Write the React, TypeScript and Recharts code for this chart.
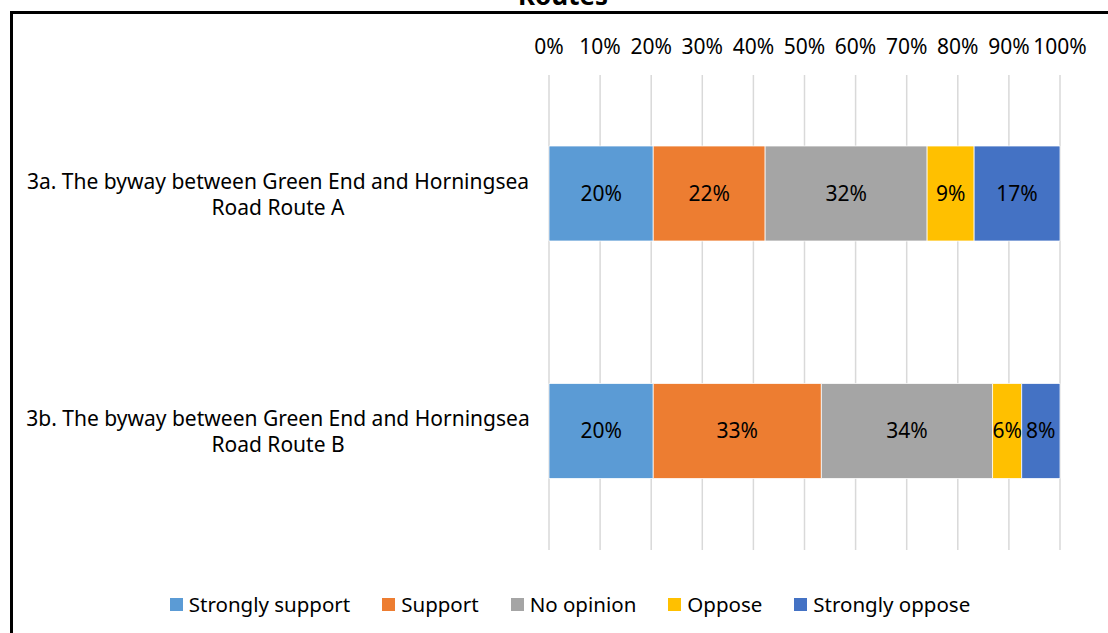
import {
  BarChart,
  Bar,
  XAxis,
  YAxis,
  CartesianGrid,
  Legend,
  LabelList
} from "recharts";

const categoryLines = [
  ["3a. The byway between Green End and Horningsea", "Road Route A"],
  ["3b. The byway between Green End and Horningsea", "Road Route B"]
];
const categories = categoryLines.map((l) => l.join(" "));

const stronglySupport = [20.4, 20.4];
const support = [21.9, 32.9];
const noOpinion = [31.7, 33.5];
const oppose = [9.2, 5.7];
const stronglyOppose = [16.8, 7.5];

const tickValues = [0, 10, 20, 30, 40, 50, 60, 70, 80, 90, 100];

const series = [
  { key: "Strongly support", values: stronglySupport, color: "#5B9BD5" },
  { key: "Support", values: support, color: "#ED7D31" },
  { key: "No opinion", values: noOpinion, color: "#A5A5A5" },
  { key: "Oppose", values: oppose, color: "#FFC000" },
  { key: "Strongly oppose", values: stronglyOppose, color: "#4472C4" }
];

const data = categories.map((name, i) => {
  const row: Record<string, string | number> = { name };
  series.forEach((s) => (row[s.key] = s.values[i]));
  return row;
});

const FONT = "'Noto Sans', 'Open Sans', sans-serif";

function CategoryTick(props: any) {
  const { y, payload } = props;
  const idx = categories.indexOf(payload.value);
  const lines = categoryLines[idx] || [payload.value];
  return (
    <text x={278} y={y} textAnchor="middle" fill="#000" fontSize={21} fontFamily={FONT}>
      {lines.map((l, i) => (
        <tspan key={i} x={278} dy={i === 0 ? -5 : 26}>
          {l}
        </tspan>
      ))}
    </text>
  );
}

function LegendContent() {
  return (
    <div
      style={{
        display: "flex",
        justifyContent: "center",
        alignItems: "center",
        height: 26,
        fontFamily: FONT,
        fontSize: 20.5,
        color: "#000",
        paddingLeft: 80
      }}
    >
      {series.map((s, i) => (
        <div
          key={s.key}
          style={{ display: "flex", alignItems: "center", marginLeft: i === 0 ? 0 : 32 }}
        >
          <span style={{ width: 13, height: 13, background: s.color, marginRight: 6 }} />
          <span>{s.key}</span>
        </div>
      ))}
    </div>
  );
}

export default function App() {
  return (
    <div
      style={{
        position: "absolute",
        left: 0,
        top: 0,
        width: 1108,
        height: 633,
        overflow: "hidden",
        background: "#fff",
        fontFamily: FONT
      }}
    >
      <div
        style={{
          position: "absolute",
          left: 0,
          width: 1126,
          top: -20,
          textAlign: "center",
          fontWeight: "bold",
          fontSize: 26,
          lineHeight: "30px"
        }}
      >
        Routes
      </div>
      <div
        style={{
          position: "absolute",
          left: 10,
          top: 11,
          width: 1200,
          height: 800,
          border: "3px solid #000"
        }}
      />
      <div style={{ position: "absolute", left: 0, top: 0 }}>
        <BarChart
          width={1108}
          height={633}
          data={data}
          layout="vertical"
          margin={{ top: 45, right: 48, left: 0, bottom: 57 }}
        >
          <CartesianGrid horizontal={false} stroke="#d9d9d9" strokeWidth={1.5} />
          <XAxis
            type="number"
            orientation="top"
            domain={[0, 100]}
            ticks={tickValues}
            tickFormatter={(v) => `${v}%`}
            axisLine={false}
            tickLine={false}
            tickSize={0}
            tickMargin={21}
            height={30}
            interval={0}
            tick={{ fill: "#000", fontSize: 21, fontFamily: FONT }}
          />
          <YAxis
            type="category"
            dataKey="name"
            width={549}
            axisLine={false}
            tickLine={false}
            tick={<CategoryTick />}
          />
          <Legend
            verticalAlign="bottom"
            content={<LegendContent />}
            wrapperStyle={{ bottom: 16 }}
          />
          {series.map((s) => (
            <Bar
              key={s.key}
              dataKey={s.key}
              stackId="a"
              fill={s.color}
              stroke="#fff"
              strokeWidth={0.75}
              barSize={95}
              isAnimationActive={false}
            >
              <LabelList
                dataKey={s.key}
                position="center"
                formatter={(v: any) => `${Math.round(Number(v))}%`}
                fill="#000"
                fontSize={21}
                fontFamily={FONT}
              />
            </Bar>
          ))}
        </BarChart>
      </div>
    </div>
  );
}
